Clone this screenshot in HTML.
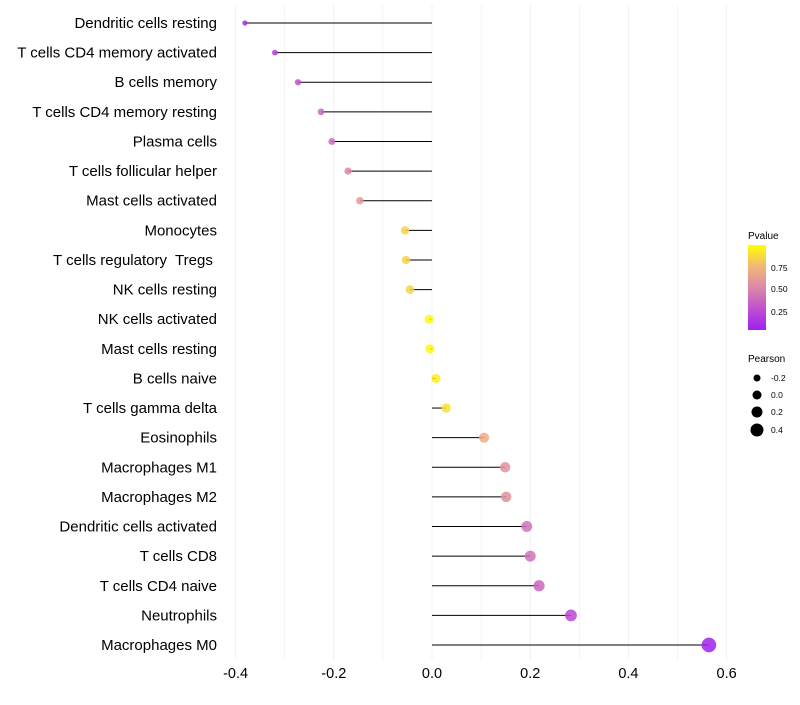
<!DOCTYPE html>
<html><head><meta charset="utf-8"><style>
body{margin:0;background:#fff;font-family:"Liberation Sans",sans-serif}
svg text{font-family:"Liberation Sans",sans-serif;white-space:pre}
</style></head><body>
<svg id="chart" width="800" height="700">
<defs><linearGradient id="pg" x1="0" y1="1" x2="0" y2="0">
<stop offset="0" stop-color="#A020F0"/><stop offset="0.25" stop-color="#C050D0"/><stop offset="0.5" stop-color="#DC88A8"/><stop offset="0.75" stop-color="#F0B878"/><stop offset="1" stop-color="#FFFF00"/></linearGradient></defs>
<g id="grid"></g><g id="marks"></g><g id="labels"></g>
<g>
<text x="748" y="239" font-size="10">Pvalue</text>
<rect x="748" y="245" width="18" height="85" fill="url(#pg)"/>
<text x="771" y="271" font-size="8.5">0.75</text>
<text x="771" y="292" font-size="8.5">0.50</text>
<text x="771" y="315" font-size="8.5">0.25</text>
</g>
<g>
<text x="748" y="362" font-size="10">Pearson</text>
<circle cx="757" cy="378" r="3.5" fill="#000"/><text x="771" y="381" font-size="8.5">-0.2</text>
<circle cx="757" cy="395" r="4.5" fill="#000"/><text x="771" y="398" font-size="8.5">0.0</text>
<circle cx="757" cy="412" r="5.5" fill="#000"/><text x="771" y="415" font-size="8.5">0.2</text>
<circle cx="757" cy="430" r="6.5" fill="#000"/><text x="771" y="433" font-size="8.5">0.4</text>
</g>
</svg>
<script>
const categories=["Dendritic cells resting","T cells CD4 memory activated","B cells memory","T cells CD4 memory resting","Plasma cells","T cells follicular helper","Mast cells activated","Monocytes","T cells regulatory  Tregs ","NK cells resting","NK cells activated","Mast cells resting","B cells naive","T cells gamma delta","Eosinophils","Macrophages M1","Macrophages M2","Dendritic cells activated","T cells CD8","T cells CD4 naive","Neutrophils","Macrophages M0"];
const pearson=[-0.381,-0.32,-0.273,-0.226,-0.204,-0.171,-0.147,-0.055,-0.053,-0.045,-0.006,-0.004,0.008,0.029,0.106,0.149,0.151,0.193,0.2,0.218,0.283,0.564];
const pvalues=[0.05,0.15,0.25,0.35,0.38,0.5,0.6,0.85,0.85,0.85,0.98,0.98,0.95,0.9,0.7,0.55,0.55,0.4,0.4,0.35,0.2,0.01];
const xTicks=[-0.4,-0.2,0,0.2,0.4,0.6];
const NS="http://www.w3.org/2000/svg";
const xs=v=>432+v*491;
const ys=i=>23+i*(622/21);
const stops=[[0,[160,32,240]],[0.25,[192,80,208]],[0.5,[220,136,168]],[0.75,[240,184,120]],[1,[255,255,0]]];
function col(p){for(let k=1;k<stops.length;k++){if(p<=stops[k][0]){const a=stops[k-1],b=stops[k],t=(p-a[0])/(b[0]-a[0]);return "rgb("+a[1].map((c,j)=>Math.round(c+(b[1][j]-c)*t)).join(",")+")";}}return "rgb(255,255,0)";}
function mk(t,a,p){const e=document.createElementNS(NS,t);for(const k in a)e.setAttribute(k,a[k]);p.appendChild(e);return e;}
const grid=document.getElementById('grid'),marks=document.getElementById('marks'),labels=document.getElementById('labels');
for(let v=-0.4;v<=0.61;v+=0.1){const g=mk('line',{x1:xs(v),x2:xs(v),y1:5,y2:660,stroke:'#f0f0f0','stroke-width':Math.abs(Math.round(v*10))%2==0?1:0.7},grid);

}
xTicks.forEach(v=>{const t=mk('text',{x:xs(v),y:678,'font-size':14.5,'text-anchor':'middle',fill:'#000'},labels);t.textContent=v.toFixed(1);

});
categories.forEach((c,i)=>{const y=ys(i);
const t=mk('text',{x:217,y:y+5,'font-size':15,'text-anchor':'end',fill:'#000'},labels);t.textContent=c;


const l=mk('line',{x1:xs(0),x2:xs(pearson[i]),y1:y,y2:y,stroke:'#000','stroke-width':1},marks);


const d=mk('circle',{cx:xs(pearson[i]),cy:y,r:Math.max(1.8,4.5+5*pearson[i]),fill:col(pvalues[i]),'fill-opacity':0.85},marks);

});
</script>
</body></html>
